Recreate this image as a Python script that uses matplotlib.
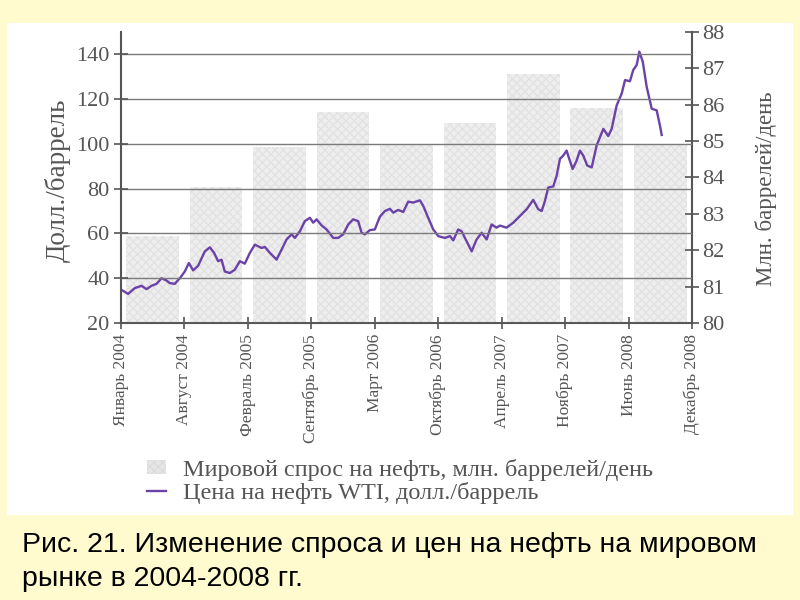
import numpy as np
import matplotlib
matplotlib.use("Agg")
import matplotlib.pyplot as plt
from matplotlib.patches import Rectangle, Patch
from matplotlib.lines import Line2D

# Данные
tick_labels = ["Январь 2004", "Август 2004", "Февраль 2005", "Сентябрь 2005",
               "Март 2006", "Октябрь 2006", "Апрель 2007", "Ноябрь 2007",
               "Июнь 2008", "Декабрь 2008"]
# мировой спрос, млн баррелей/день (столбцы между подписями)
demand = [82.4, 83.75, 84.85, 85.8, 84.9, 85.5, 86.85, 85.9, 84.9]
# цена WTI: месяцы от января 2004 и долл./баррель
months = [0.07, 0.75, 1.45, 2.14, 2.66, 3.17, 3.69, 4.21, 4.72, 5.06, 5.58, 6.10,
          6.61, 7.03, 7.47, 7.99, 8.68, 9.20, 9.64, 10.05, 10.40, 10.74, 11.26,
          11.78, 12.30, 12.81, 13.33, 13.85, 14.54, 14.88, 15.40, 16.09, 16.61,
          17.12, 17.64, 17.98, 18.50, 19.01, 19.53, 19.87, 20.22, 20.74, 21.25,
          21.94, 22.45, 22.97, 23.49, 24.00, 24.52, 24.87, 25.21, 25.73, 26.24,
          26.76, 27.28, 27.79, 28.14, 28.65, 29.17, 29.69, 30.20, 30.90, 31.24,
          31.75, 32.27, 32.79, 33.48, 34.00, 34.34, 34.85, 35.20, 35.72, 36.24,
          36.75, 37.27, 37.79, 38.30, 38.82, 39.16, 39.85, 40.54, 41.23, 41.92,
          42.60, 43.12, 43.47, 43.81, 44.15, 44.67, 45.02, 45.36, 45.70, 46.05,
          46.32, 46.67, 47.08, 47.42, 47.77, 48.18, 48.64, 49.15, 49.84, 50.35,
          50.70, 51.22, 51.74, 52.08, 52.59, 52.93, 53.29, 53.56, 53.91, 54.32,
          54.84, 55.35, 55.69, 55.87]
price = [34.8, 33.0, 35.6, 36.6, 35.1, 36.6, 37.5, 40.0, 39.0, 37.8, 37.5, 40.0,
         43.0, 46.8, 43.5, 45.6, 52.0, 53.8, 51.3, 47.6, 48.3, 43.0, 42.3,
         43.8, 47.6, 46.5, 51.3, 55.0, 53.5, 54.0, 51.3, 48.3, 52.8,
         57.3, 59.6, 58.0, 61.0, 65.5, 67.0, 64.8, 66.3, 63.6, 61.8,
         58.0, 58.0, 59.6, 64.0, 66.3, 65.5, 60.3, 59.6, 61.5, 61.8,
         67.5, 70.0, 71.0, 69.3, 70.5, 69.6, 74.2, 73.8, 74.8, 72.3,
         67.0, 61.8, 58.8, 58.0, 58.8, 56.9, 61.8, 61.0, 56.5, 52.0,
         57.3, 60.3, 57.3, 64.0, 62.6, 63.5, 62.6, 64.8, 67.8, 70.8,
         75.0, 70.8, 70.0, 74.5, 80.5, 81.0, 85.8, 93.3, 94.8, 97.0,
         93.3, 88.8, 92.5, 97.0, 94.8, 90.3, 89.5, 99.3, 106.7, 103.5,
         106.7, 117.2, 122.5, 128.5, 128.0, 133.0, 135.3, 141.2, 136.8, 125.5,
         115.7, 115.0, 108.2, 104.0]
caption = ["Рис. 21. Изменение спроса и цен на нефть на мировом",
           "рынке в 2004-2008 гг."]

serif = ["Liberation Serif", "DejaVu Serif"]
gray = "#555555"
purple = "#6a42a8"

fig = plt.figure(figsize=(8, 6), dpi=100)
fig.patch.set_facecolor("#FFFBCF")
fig.add_artist(Rectangle((7 / 800, 85 / 600), 786 / 800, 492 / 600,
                         transform=fig.transFigure, facecolor="white",
                         edgecolor="none", zorder=-1))

ax = fig.add_axes([0.151, 0.4617, 0.714, 0.485])
ax2 = ax.twinx()
ax.set_zorder(2)
ax2.set_zorder(1)
ax.patch.set_visible(False)
ax2.patch.set_visible(False)

ticks = np.linspace(0, 59, len(tick_labels))
centers = (ticks[:-1] + ticks[1:]) / 2
width = 0.83 * np.diff(ticks)

ax2.bar(centers, np.array(demand) - 80, width=width, bottom=80,
        color="#eeeeee", edgecolor="#e2e2e2", linewidth=0, hatch="xxxx")
ax2.set_ylim(80, 88)
ax2.set_yticks(range(80, 89))

ax.plot(months, price, color=purple, lw=1.7)
ax.set_xlim(0, 59)
ax.set_ylim(20, 150)
ax.set_yticks(range(20, 141, 20))
ax.set_xticks(ticks)
ax.set_xticklabels(tick_labels, rotation=90, family=serif, fontsize=12.5, color=gray)
ax.grid(axis="y", color="#7a7a7a", lw=1)
ax.set_axisbelow(False)

for a in (ax, ax2):
    for s in a.spines.values():
        s.set_visible(False)
ax.spines["left"].set_visible(True)
ax.spines["bottom"].set_visible(True)
ax2.spines["right"].set_visible(True)
for s in (ax.spines["left"], ax.spines["bottom"], ax2.spines["right"]):
    s.set_color(gray)
    s.set_linewidth(1.5)

ax.tick_params(axis="y", direction="inout", length=10, width=1.2, color=gray,
               labelsize=16, labelcolor=gray, pad=3)
ax.tick_params(axis="x", direction="inout", length=8, width=1.2, color=gray, pad=4)
ax2.tick_params(axis="y", direction="inout", length=10, width=1.2, color=gray,
                labelsize=16, labelcolor=gray, pad=2)
for lab in ax.get_yticklabels() + ax2.get_yticklabels():
    lab.set_family(serif)

ax.set_ylabel("Долл./баррель", family=serif, fontsize=19.5, color=gray)
ax.yaxis.set_label_coords(-0.087, 0.49)
ax2.set_ylabel("Млн. баррелей/день", family=serif, fontsize=16.5, color=gray)
ax2.yaxis.set_label_coords(1.11, 0.46)

handles = [Patch(facecolor="#e6e6e6", edgecolor="#dcdcdc", hatch="xxxx", linewidth=0),
           Line2D([], [], color=purple, lw=1.7)]
fig.legend(handles, ["Мировой спрос на нефть, млн. баррелей/день",
                     "Цена на нефть WTI, долл./баррель"],
           loc="upper left", bbox_to_anchor=(0.156, 0.272), frameon=False,
           prop={"family": serif, "size": 17.5}, labelcolor=gray,
           handlelength=0.8, handleheight=0.5, handletextpad=0.7, labelspacing=0.05)

sans = ["Liberation Sans", "DejaVu Sans"]
fig.text(22 / 800, 1 - 545 / 600, caption[0], family=sans, fontsize=20.5,
         color="black", va="center", ha="left")
fig.text(22 / 800, 1 - 579 / 600, caption[1], family=sans, fontsize=20.5,
         color="black", va="center", ha="left")

fig.savefig("out.png", dpi=100, facecolor=fig.get_facecolor())
